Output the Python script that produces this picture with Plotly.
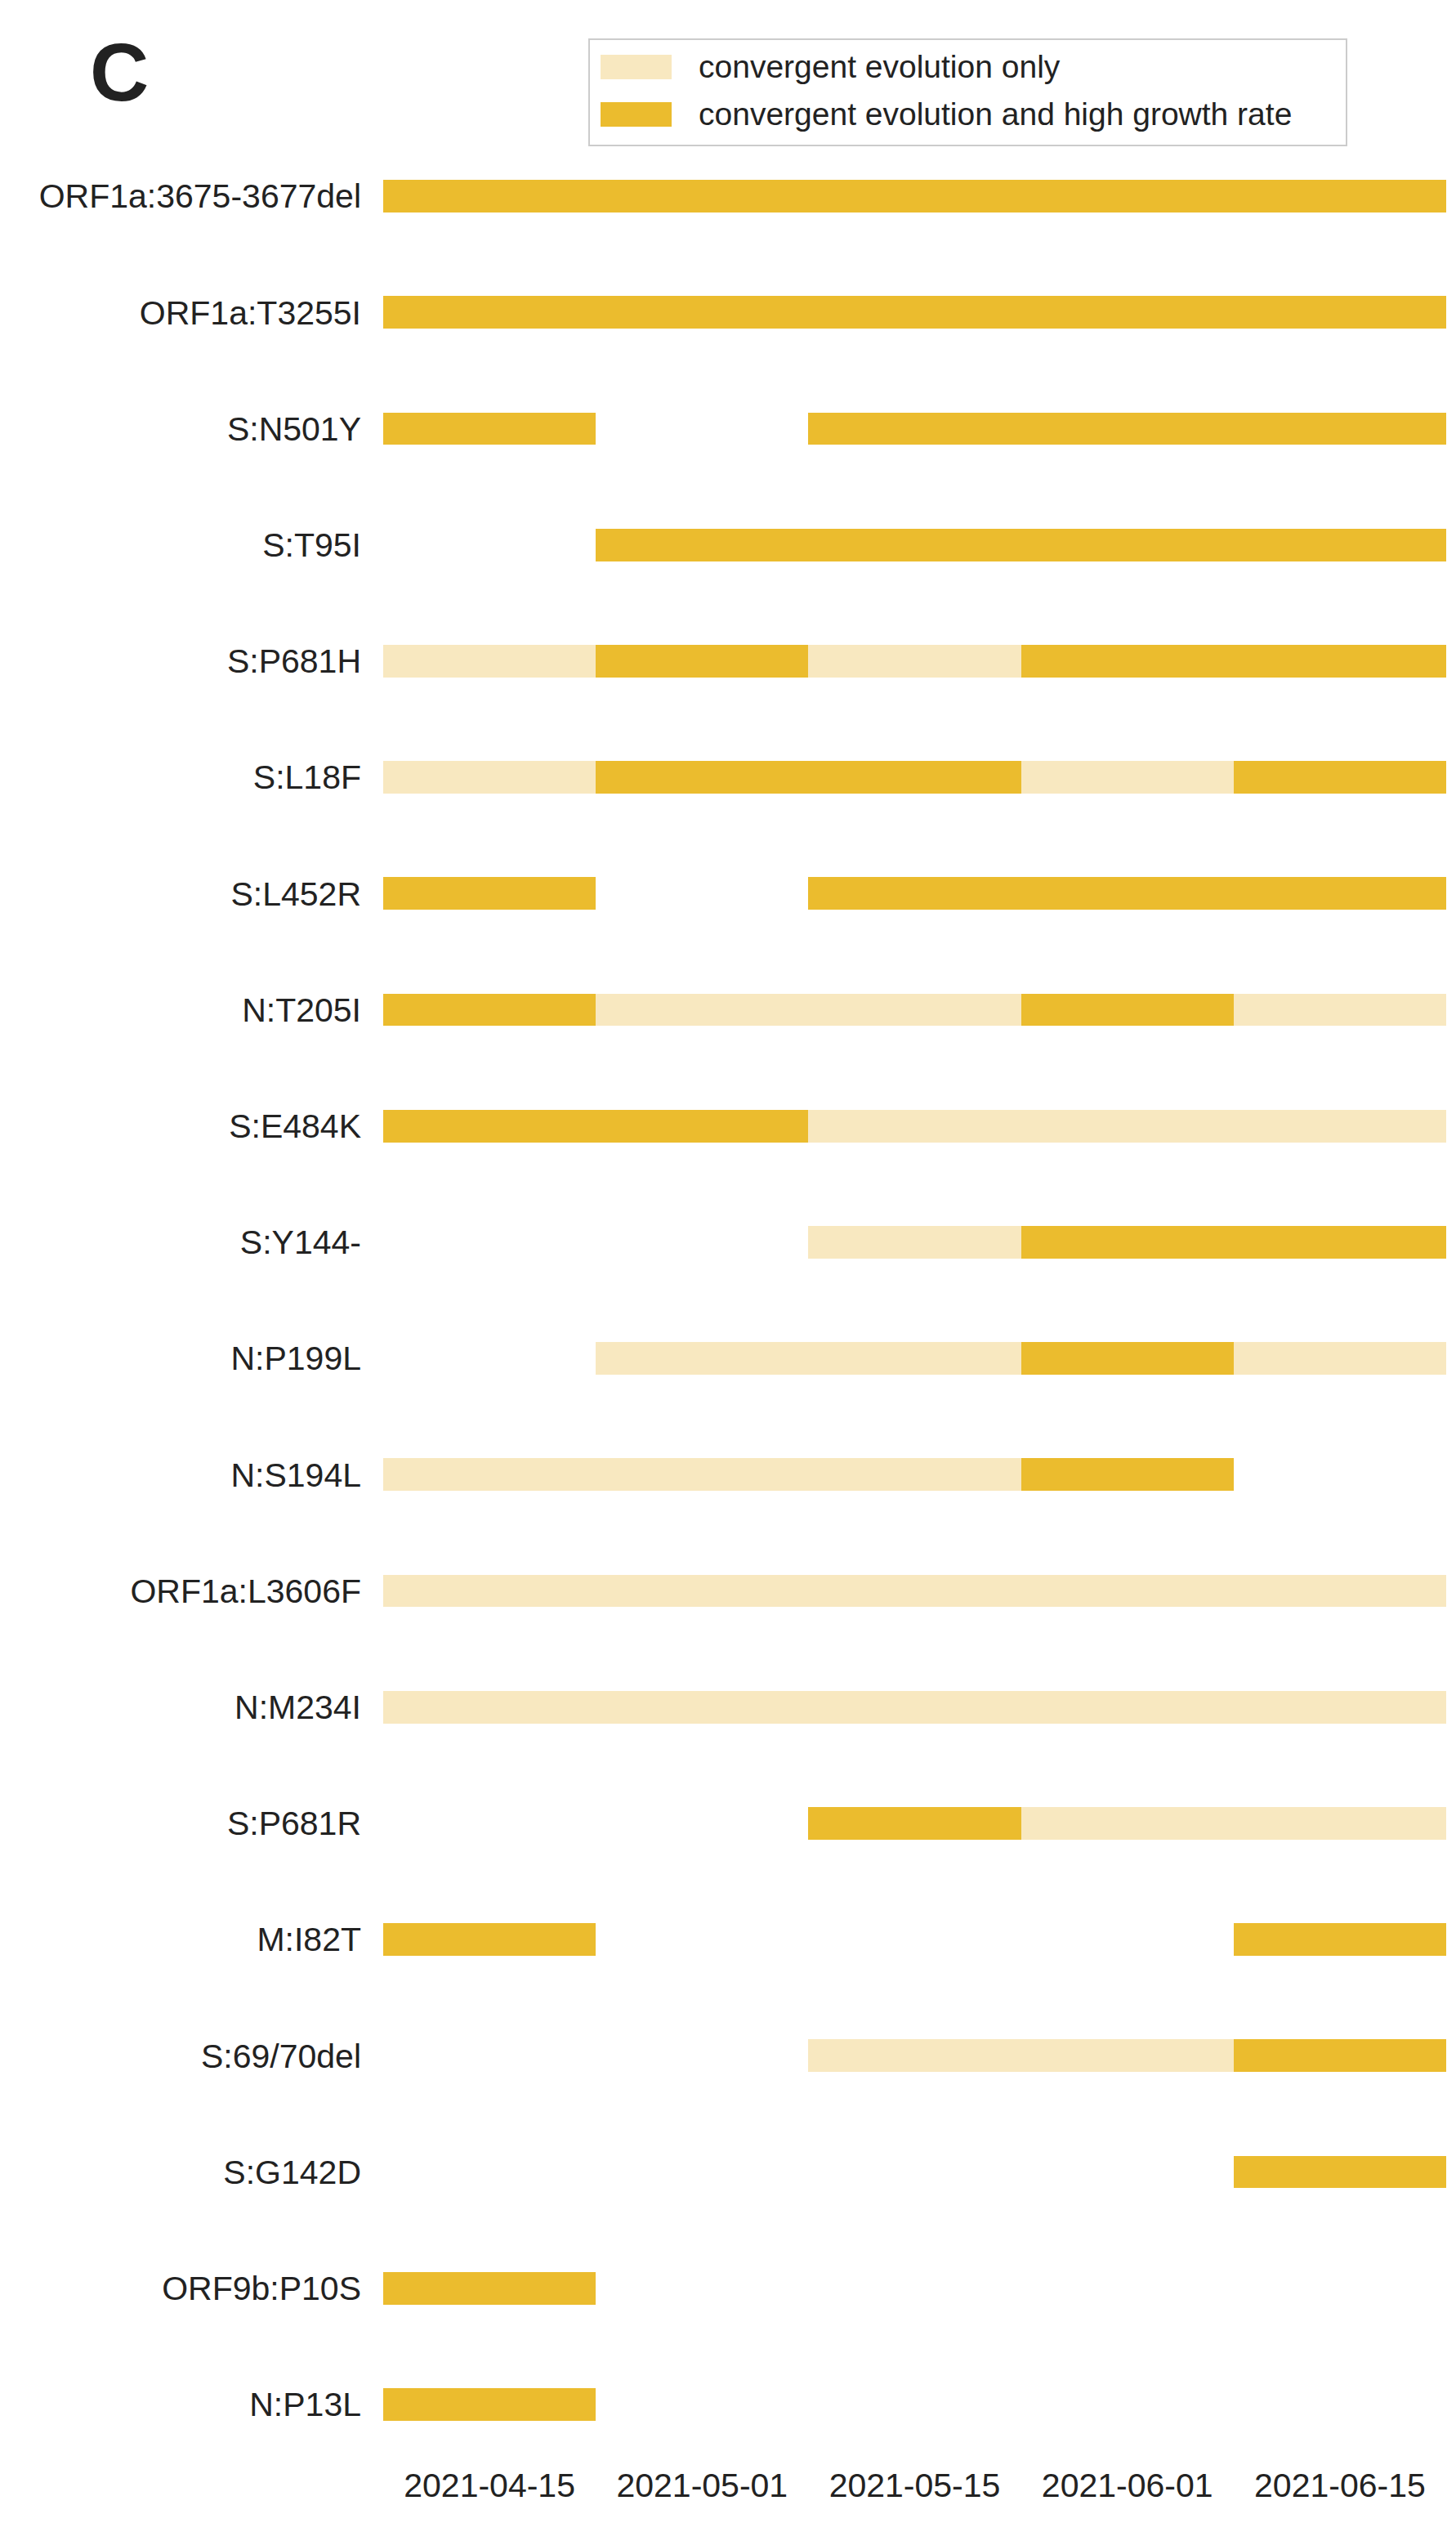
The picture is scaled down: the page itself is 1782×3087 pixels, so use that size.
import plotly.graph_objects as go

mutations = ["ORF1a:3675-3677del","ORF1a:T3255I","S:N501Y","S:T95I","S:P681H","S:L18F",
             "S:L452R","N:T205I","S:E484K","S:Y144-","N:P199L","N:S194L","ORF1a:L3606F",
             "N:M234I","S:P681R","M:I82T","S:69/70del","S:G142D","ORF9b:P10S","N:P13L"]
# status per time window: 0 none, 1 convergent only, 2 convergent + high growth
status = [
    [2,2,2,2,2],[2,2,2,2,2],[2,0,2,2,2],[0,2,2,2,2],[1,2,1,2,2],[1,2,2,1,2],
    [2,0,2,2,2],[2,1,1,2,1],[2,2,1,1,1],[0,0,1,2,2],[0,1,1,2,1],[1,1,1,2,0],
    [1,1,1,1,1],[1,1,1,1,1],[0,0,2,1,1],[2,0,0,0,2],[0,0,1,1,2],[0,0,0,0,2],
    [2,0,0,0,0],[2,0,0,0,0]]
windows = ["2021-04-15","2021-05-01","2021-05-15","2021-06-01","2021-06-15"]

names = {1: "convergent evolution only", 2: "convergent evolution and high growth rate"}
colors = {1: "#F8E8C0", 2: "#EBBC2E"}

L, R, T, B, W, H = 461, 20, 161, 82, 1782, 3087
pw, ph = W - L - R, H - T - B
fx = lambda px: (px - L) / pw
fy = lambda py: (H - B - py) / ph

fig = go.Figure()
for s in (1, 2):
    ys, bases, xs = [], [], []
    for m, row in zip(mutations, status):
        for i, v in enumerate(row):
            if v == s:
                ys.append(m); bases.append(i); xs.append(1)
    fig.add_trace(go.Bar(y=ys, x=xs, base=bases, orientation="h", name=names[s],
                         marker=dict(color=colors[s], line=dict(width=0)), width=0.28,
                         showlegend=False))

fig.update_layout(
    width=W, height=H, plot_bgcolor="white", paper_bgcolor="white",
    margin=dict(l=L, r=R, t=T, b=B, autoexpand=False),
    font=dict(family="Liberation Sans, Arial", size=41, color="#222222"),
    barmode="overlay", bargap=0, showlegend=False,
)
fig.update_xaxes(range=[0, 5], tickvals=[i + 0.5 for i in range(5)], ticktext=windows,
                 showgrid=False, zeroline=False, showline=False, ticks="")
fig.update_yaxes(categoryorder="array", categoryarray=mutations[::-1], range=[-0.5, 19.5],
                 showgrid=False, zeroline=False, ticks="", ticklabelstandoff=26)

# manual legend
fig.add_shape(type="rect", xref="paper", yref="paper", x0=fx(713), x1=fx(1640),
              y0=fy(170), y1=fy(40), line=dict(color="#cccccc", width=2),
              fillcolor="white")
for s, (y0, y1) in ((1, (59, 89)), (2, (117, 147))):
    fig.add_shape(type="rect", xref="paper", yref="paper", x0=fx(727), x1=fx(814),
                  y0=fy(y1), y1=fy(y0), line=dict(width=0), fillcolor=colors[s])
    fig.add_annotation(text=names[s], xref="paper", yref="paper", x=fx(845),
                       y=fy((y0 + y1) / 2), xanchor="left", yanchor="middle",
                       showarrow=False, font=dict(size=39))

fig.add_annotation(text="<b>C</b>", xref="paper", yref="paper", x=fx(138), y=fy(22),
                   xanchor="center", yanchor="top", showarrow=False, font=dict(size=100))
fig.write_html("out.html")
